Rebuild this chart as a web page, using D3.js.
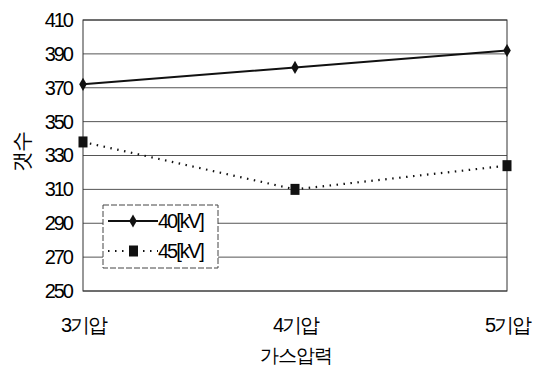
<!DOCTYPE html>
<html><head><meta charset="utf-8">
<script src="https://cdn.jsdelivr.net/npm/d3@7"></script>
<style>body{margin:0;background:#fff}svg{display:block}text{font-family:"Liberation Sans",Arial,sans-serif;fill:#000}</style>
</head><body><svg id="c" width="544" height="369"></svg>
<script>
const categories = ["3기압","4기압","5기압"];
const series40 = [372, 382, 392];
const series45 = [338, 310, 324];
const seriesNames = ["40[kV]","45[kV]"];
const yTicks = [250,270,290,310,330,350,370,390,410];

const svg = d3.select("#c");
const L=83,R=507,T=20,B=291;
const x = d3.scalePoint().domain(categories).range([L,R]);
const y = d3.scaleLinear().domain([250,410]).range([B,T]);

svg.append("g").selectAll("line").data(yTicks).join("line")
  .attr("x1",L).attr("x2",R).attr("y1",d=>y(d)).attr("y2",d=>y(d))
  .attr("stroke","#555").attr("stroke-width",1);
svg.append("rect").attr("x",L).attr("y",T).attr("width",R-L).attr("height",B-T)
  .attr("fill","none").attr("stroke","#333").attr("stroke-width",1);

const ya = svg.append("g").attr("transform",`translate(${L},0)`)
  .call(d3.axisLeft(y).tickValues(yTicks).tickSize(0).tickPadding(11));
ya.select(".domain").remove();
ya.selectAll("text").style("font-size","20px").style("letter-spacing","-2px").attr("fill","#000");

const xa = svg.append("g").attr("transform",`translate(0,${B})`)
  .call(d3.axisBottom(x).tickSize(0).tickPadding(27));
xa.select(".domain").remove();
xa.selectAll("text").style("font-size","20px").style("letter-spacing","-2px").attr("fill","#000");

svg.append("text").attr("x",296).attr("y",362).attr("text-anchor","middle")
  .style("font-size","19px").style("letter-spacing","-1px").text("가스압력");
svg.append("text").attr("transform","translate(29,152) rotate(-90)").attr("text-anchor","middle")
  .style("font-size","21px").style("letter-spacing","-1px").text("갯수");

const line = d3.line().x((d,i)=>x(categories[i])).y(d=>y(d));
svg.append("path").datum(series40).attr("d",line).attr("fill","none").attr("stroke","#111").attr("stroke-width",2);
svg.append("path").datum(series45).attr("d",line).attr("fill","none").attr("stroke","#111").attr("stroke-width",2.2).attr("stroke-dasharray","1.5,5.5");

const diamond = d3.symbol().type(d3.symbolDiamond).size(50);
svg.append("g").selectAll("path").data(series40).join("path")
  .attr("transform",(d,i)=>`translate(${x(categories[i])},${y(d)})`).attr("d",diamond).attr("fill","#111");
svg.append("g").selectAll("rect").data(series45).join("rect")
  .attr("x",(d,i)=>x(categories[i])-4.5).attr("y",d=>y(d)-5.5).attr("width",9).attr("height",11).attr("fill","#111");

const lg = svg.append("g");
lg.append("rect").attr("x",103).attr("y",205).attr("width",115).attr("height",63)
  .attr("fill","#fff").attr("stroke","#444").attr("stroke-dasharray","6,2");
[0,1].forEach(i=>{
  const yy = 221+i*30;
  lg.append("line").attr("x1",108).attr("x2",158).attr("y1",yy).attr("y2",yy)
    .attr("stroke","#111").attr("stroke-width",2).attr("stroke-dasharray", i? "1.5,5.5":null);
  if(i===0) lg.append("path").attr("transform",`translate(133,${yy})`).attr("d",diamond).attr("fill","#111");
  else lg.append("rect").attr("x",129).attr("y",yy-5.5).attr("width",9).attr("height",11).attr("fill","#111");
  lg.append("text").attr("x",158).attr("y",yy+7).style("font-size","20px").style("letter-spacing","-2px").text(seriesNames[i]);
});
</script></body></html>
